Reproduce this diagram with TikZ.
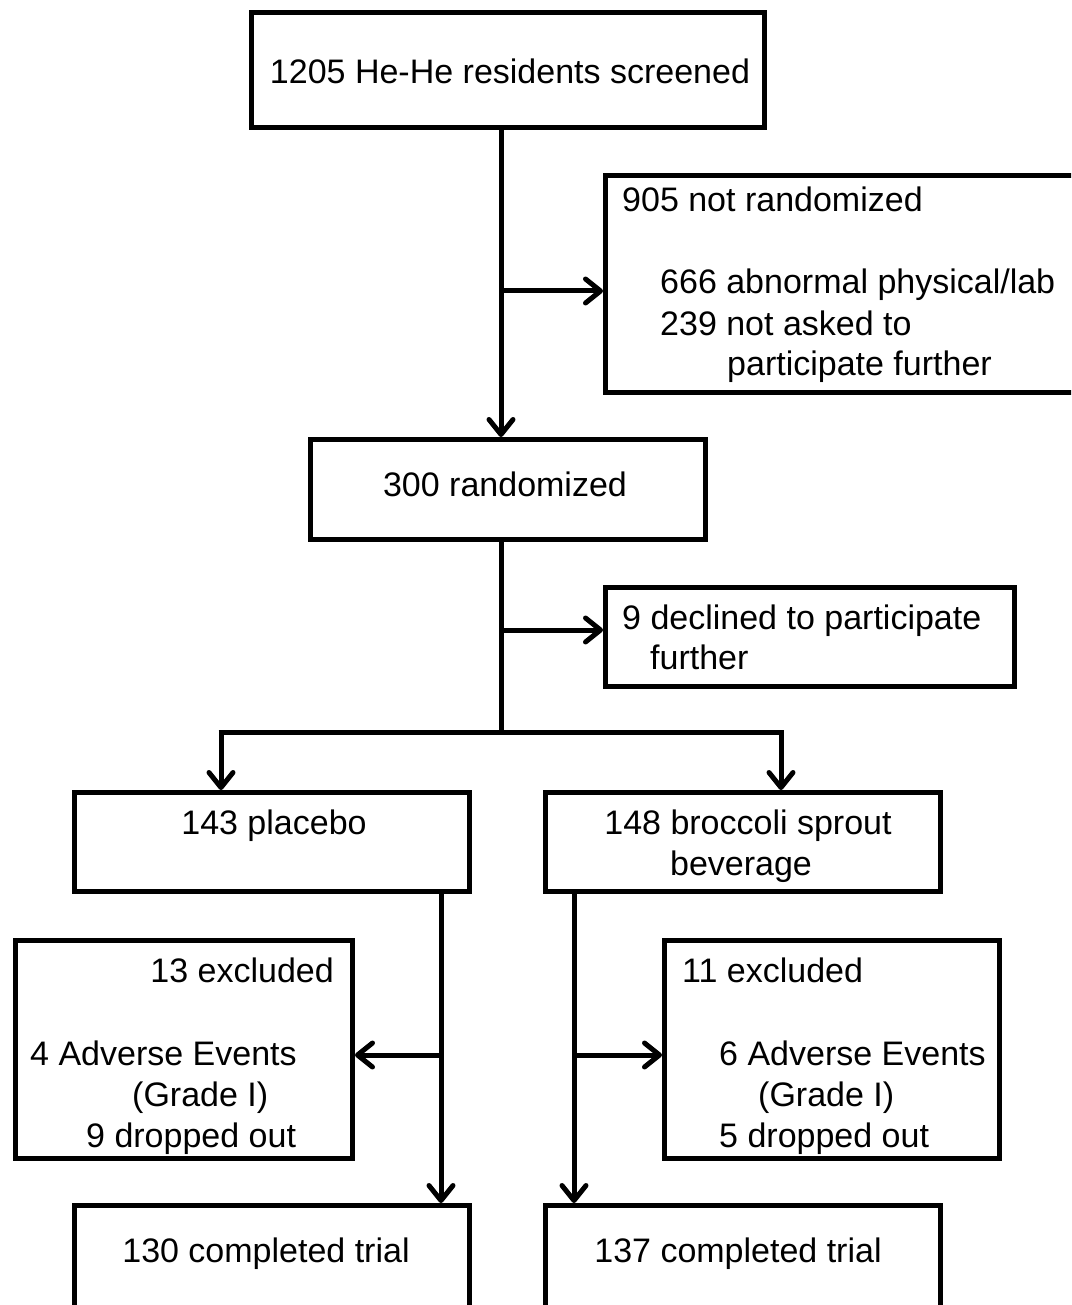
\documentclass[tikz,border=0pt]{standalone}
\usepackage{fontspec}
\setmainfont{Liberation Sans}
\usetikzlibrary{arrows.meta}
\begin{document}
\begin{tikzpicture}[x=1pt,y=-1pt,
  box/.style={draw=black,line width=5pt,rectangle,inner sep=0pt,fill=white},
  conn/.style={line width=5pt},
  arr/.style={conn,-{Straight Barb[length=15pt,width=24pt,line width=5pt,round]}},
  txt/.style={font=\fontsize{34}{40}\selectfont,inner sep=0pt}]
\useasboundingbox (0,0) rectangle (1071,1305);
\clip (0,0) rectangle (1071,1305);
\fill[white] (0,0) rectangle (1071,1305);
% boxes
\node[box,minimum width=513pt,minimum height=115pt] (a) at (508,70) {};
\node[box,minimum width=472pt,minimum height=217pt] (b) at (841.5,284) {};
\node[box,minimum width=395pt,minimum height=100pt] (c) at (508,489.5) {};
\node[box,minimum width=409pt,minimum height=99pt] (d) at (810,637) {};
\node[box,minimum width=395pt,minimum height=99pt] (e) at (272,842) {};
\node[box,minimum width=395pt,minimum height=99pt] (f) at (743,842) {};
\node[box,minimum width=337pt,minimum height=218pt] (g) at (184,1049.5) {};
\node[box,minimum width=335pt,minimum height=218pt] (h) at (832,1049.5) {};
\node[box,minimum width=395pt,minimum height=112pt] (i) at (272,1261.5) {};
\node[box,minimum width=395pt,minimum height=112pt] (j) at (743,1261.5) {};
% coordinates
\coordinate (m) at (501,0);
\coordinate (b1) at (501,291);
\coordinate (b2) at (501,630);
\coordinate (sp) at (501,732);
\coordinate (sl) at (221,732);
\coordinate (sr) at (781,732);
\coordinate (ll) at (441,0);
\coordinate (rl) at (574,0);
\coordinate (gl) at (441,1055);
\coordinate (hl) at (574,1055);
% connectors
\draw[arr] (a.south -| m) -- (c.north -| m);
\draw[arr] (b1) -- (b.west |- b1);
\draw[conn] (c.south -| m) -- (sp);
\draw[arr] (b2) -- (d.west |- b2);
\draw[conn] ([xshift=-2.5pt]sl) -- ([xshift=2.5pt]sr);
\draw[arr] (sl) -- (e.north -| sl);
\draw[arr] (sr) -- (f.north -| sr);
\draw[arr] (e.south -| ll) -- (i.north -| ll);
\draw[arr] (f.south -| rl) -- (j.north -| rl);
\draw[arr] (gl) -- (g.east |- gl);
\draw[arr] (hl) -- (h.west |- hl);
% texts
\node[txt,anchor=base] (ta) at (510,84) {1205 He-He residents screened};
\node[txt,anchor=base west] (tb1) at (622,212) {905 not randomized};
\node[txt,anchor=base west] (tb2) at (660,294) {666 abnormal physical/lab};
\node[txt,anchor=base west] (tb3) at (660,335) {239 not asked to};
\node[txt,anchor=base west] (tb4) at (727,375) {participate further};
\node[txt,anchor=base] (tc) at (505,496) {300 randomized};
\node[txt,anchor=base west] (td1) at (622,629) {9 declined to participate};
\node[txt,anchor=base west] (td2) at (650,669) {further};
\node[txt,anchor=base] (te) at (274,834) {143 placebo};
\node[txt,anchor=base] (tf1) at (748,834) {148 broccoli sprout};
\node[txt,anchor=base] (tf2) at (741,875) {beverage};
\node[txt,anchor=base east] (tg1) at (334,982) {13 excluded};
\node[txt,anchor=base west] (tg2) at (30,1065) {4 Adverse Events};
\node[txt,anchor=base west] (tg3) at (132,1106) {(Grade I)};
\node[txt,anchor=base west] (tg4) at (86,1147) {9 dropped out};
\node[txt,anchor=base west] (th1) at (682,982) {11 excluded};
\node[txt,anchor=base west] (th2) at (719,1065) {6 Adverse Events};
\node[txt,anchor=base west] (th3) at (758,1106) {(Grade I)};
\node[txt,anchor=base west] (th4) at (719,1147) {5 dropped out};
\node[txt,anchor=base] (ti) at (266,1262) {130 completed trial};
\node[txt,anchor=base] (tj) at (738,1262) {137 completed trial};
\end{tikzpicture}
\end{document}
